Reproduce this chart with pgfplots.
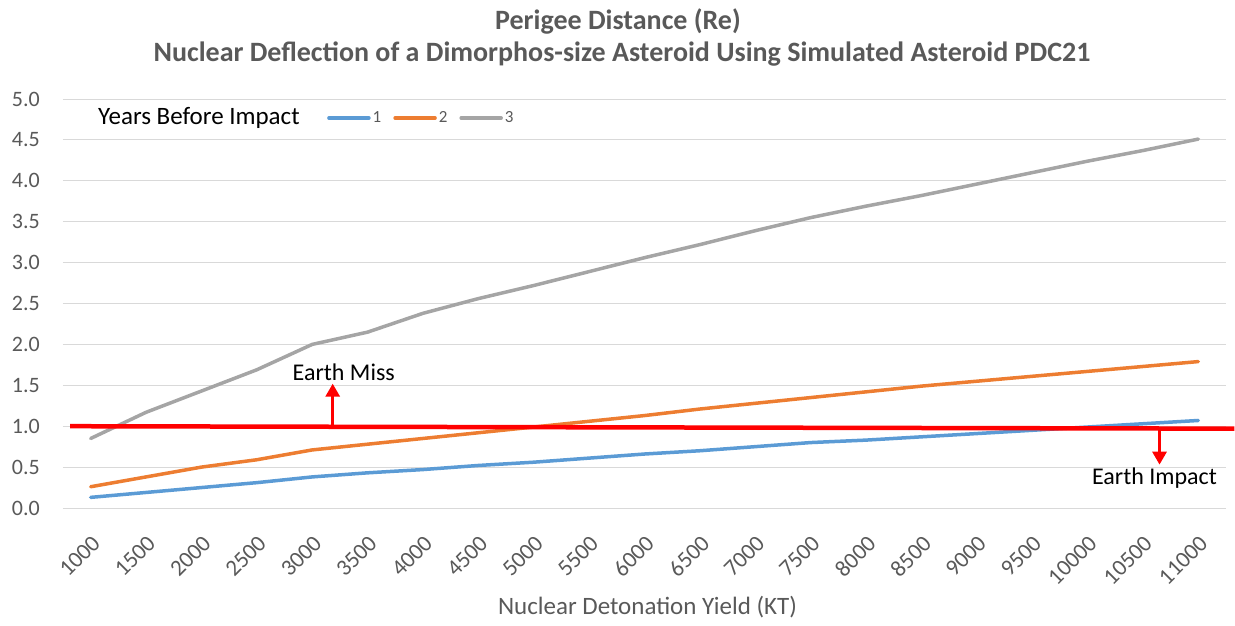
\documentclass[border=0pt]{standalone}
\usepackage{pgfplots}
\pgfplotsset{compat=1.18}
\usepackage{fontspec}
\setmainfont{Carlito}
\usetikzlibrary{arrows.meta}
\definecolor{txtgray}{RGB}{89,89,89}
\definecolor{gridgray}{RGB}{217,217,217}
\definecolor{xlblue}{RGB}{91,155,213}
\definecolor{xlorange}{RGB}{237,125,49}
\definecolor{xlgray}{RGB}{165,165,165}
\begin{document}
\begin{tikzpicture}
\path[use as bounding box] (-63pt,-117pt) rectangle (1172pt,508pt);
\begin{axis}[
  at={(0pt,0pt)}, anchor=south west,
  scale only axis, width=1163pt, height=409pt,
  xmin=-0.5, xmax=20.5, ymin=0, ymax=5,
  clip=false,
  axis line style={draw=none},
  major tick length=0pt,
  ymajorgrids, grid style={gridgray, line width=1pt},
  ytick={0,0.5,...,5},
  yticklabel style={/pgf/number format/fixed, /pgf/number format/fixed zerofill, /pgf/number format/precision=1,
     anchor=east, inner sep=0pt, xshift=-23pt, font=\fontsize{22}{26}\selectfont, text=txtgray},
  /pgf/number format/assume math mode=true,
  xtick={0,...,20},
  xticklabels={1000,1500,2000,2500,3000,3500,4000,4500,5000,5500,6000,6500,7000,7500,8000,8500,9000,9500,10000,10500,11000},
  xticklabel style={xshift=0pt, yshift=-26pt, rotate=45, anchor=north east, inner sep=0pt, font=\fontsize{23}{27}\selectfont, text=txtgray},
  xlabel={Nuclear Detonation Yield (KT)},
  every axis x label/.style={at={(axis description cs:0.5,0)}, anchor=center, xshift=3pt, yshift=-99pt, font=\fontsize{25}{29}\selectfont, text=txtgray},
  legend columns=3,
  legend style={at={(axis description cs:0.227,0.9535)}, anchor=west, draw=none, fill=none, inner sep=0pt,
     font=\fontsize{17}{20}\selectfont, text=txtgray,
     nodes={inner sep=1pt},
     /tikz/every odd column/.append style={column sep=1pt},
     /tikz/every even column/.append style={column sep=11pt}},
  legend image code/.code={\draw[#1, line cap=round] (0pt,0pt) -- (40pt,0pt);},
]
\addplot[xlblue, line width=3.5pt, line cap=round, line join=round] coordinates {
(0,0.13) (1,0.19) (2,0.25) (3,0.31) (4,0.38) (5,0.43) (6,0.47) (7,0.52) (8,0.56) (9,0.61) (10,0.66)
(11,0.70) (12,0.75) (13,0.80) (14,0.83) (15,0.87) (16,0.91) (17,0.95) (18,0.99) (19,1.03) (20,1.07)};
\addlegendentry{1}
\addplot[xlorange, line width=3.5pt, line cap=round, line join=round] coordinates {
(0,0.26) (1,0.38) (2,0.50) (3,0.59) (4,0.71) (5,0.78) (6,0.85) (7,0.92) (8,0.99) (9,1.06) (10,1.13)
(11,1.21) (12,1.28) (13,1.35) (14,1.42) (15,1.49) (16,1.55) (17,1.61) (18,1.67) (19,1.73) (20,1.79)};
\addlegendentry{2}
\addplot[xlgray, line width=3.5pt, line cap=round, line join=round] coordinates {
(0,0.85) (1,1.17) (2,1.43) (3,1.69) (4,2.00) (5,2.15) (6,2.38) (7,2.56) (8,2.72) (9,2.89) (10,3.06)
(11,3.22) (12,3.39) (13,3.55) (14,3.69) (15,3.82) (16,3.96) (17,4.10) (18,4.24) (19,4.37) (20,4.51)};
\addlegendentry{3}
% threshold line and arrows
\addplot[red, line width=4.5pt, forget plot] coordinates {(-0.37,1.0) (20.65,0.97)};
\addplot[red, line width=3pt, -{Triangle[width=14pt,length=13pt]}, forget plot] coordinates {(4.37,1.0) (4.37,1.52)};
\addplot[red, line width=3pt, -{Triangle[width=14pt,length=13pt]}, forget plot] coordinates {(19.30,0.975) (19.30,0.53)};
\node[font=\fontsize{24}{28}\selectfont, text=black] at (axis cs:4.57,1.665) {Earth Miss};
\node[font=\fontsize{24}{28}\selectfont, text=black] at (axis cs:19.21,0.37) {Earth Impact};
\node[anchor=west, inner sep=0pt, font=\fontsize{25}{29}\selectfont, text=black] at (axis description cs:0.0301,0.9535) {Years Before Impact};
\end{axis}
\node[anchor=base, font=\bfseries\fontsize{28}{32}\selectfont, text=txtgray] at (555pt,478pt) {Perigee Distance (Re)};
\node[anchor=base, font=\bfseries\fontsize{28}{32}\selectfont, text=txtgray] at (559pt,446pt) {Nuclear Deflection of a Dimorphos-size Asteroid Using Simulated Asteroid PDC21};
\end{tikzpicture}
\end{document}
